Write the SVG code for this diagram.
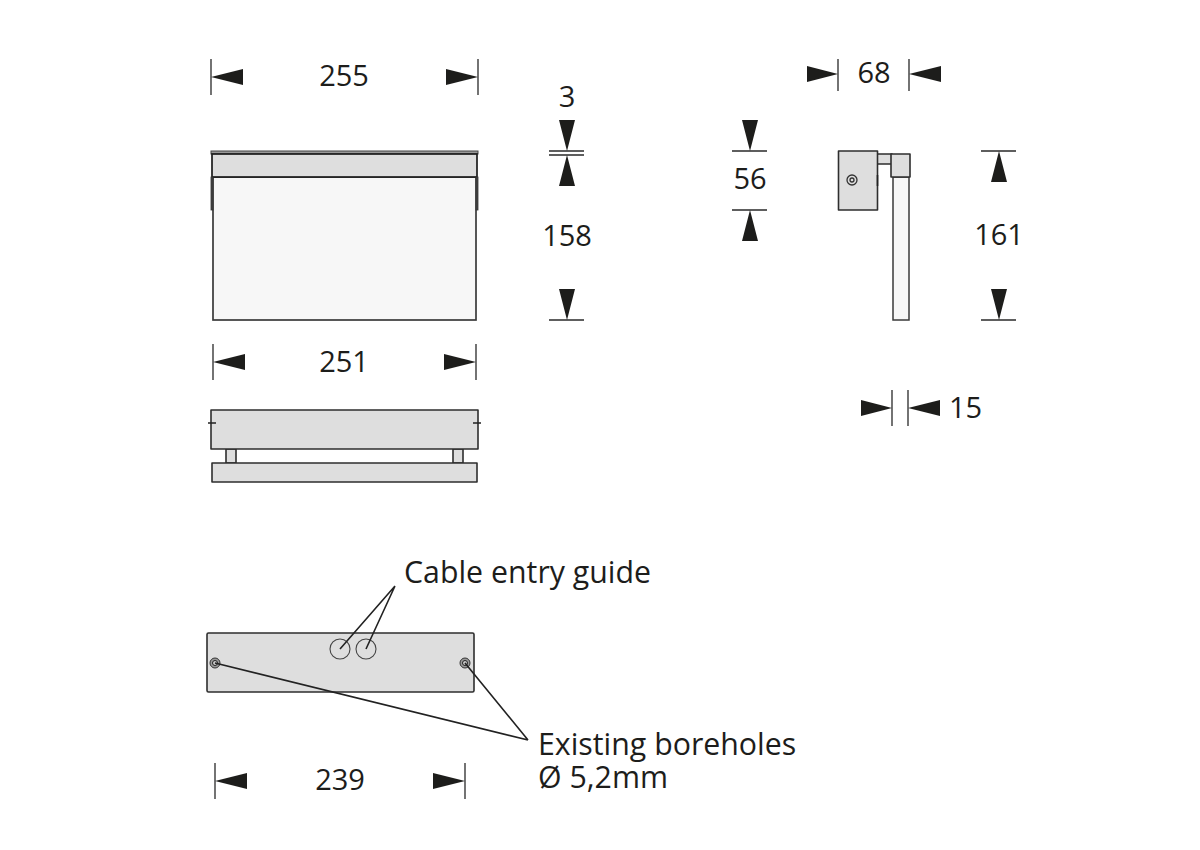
<svg xmlns="http://www.w3.org/2000/svg" width="1200" height="850" viewBox="0 0 1200 850">
<style>
text{font-family:"Open Sans","Noto Sans","Liberation Sans",sans-serif;font-size:29px;fill:#1d1d1b}
.m{text-anchor:middle}
.n{font-size:30.300px}
.o{stroke:#2e2e2e;stroke-width:1.600;fill:#dedede;stroke-linejoin:round}
.l{stroke:#2a2a2a;stroke-width:1.300;fill:none}
.k{stroke:#222;stroke-width:1.600;fill:none}
.a{fill:#1d1d1b;stroke:none}
</style>
<rect width="1200" height="850" fill="#fff"/>
<g id="front-view">
<rect x="213" y="177" width="263" height="143" fill="#f7f7f7" stroke="#3a3a3a" stroke-width="1.700"/>
<rect x="211" y="151" width="267" height="3" fill="#999" stroke="#444" stroke-width="1"/>
<rect x="212" y="154" width="265" height="23" fill="#dedede" stroke="#1d1d1d" stroke-width="1.700"/>
<rect x="211" y="177" width="2" height="33" fill="#444" stroke="#333" stroke-width="0.800"/>
<rect x="476" y="177" width="2" height="33" fill="#444" stroke="#333" stroke-width="0.800"/>
</g>
<g id="side-view">
<rect x="893" y="177" width="16" height="143" fill="#f7f7f7" stroke="#3a3a3a" stroke-width="1.500"/>
<rect x="877" y="154" width="15" height="10" class="o"/>
<path class="o" d="M891 154H910V177H891Z"/>
<rect x="838.500" y="151" width="39" height="59" class="o"/>
<path class="k" d="M877.500 175V186"/>
<circle cx="852" cy="180" r="5" fill="none" stroke="#333" stroke-width="1.300"/>
<circle cx="852" cy="180" r="2" fill="none" stroke="#333" stroke-width="1.300"/>
</g>
<g id="top-view">
<rect x="226" y="449" width="10" height="14" class="o"/>
<rect x="453" y="449" width="10" height="14" class="o"/>
<rect x="211" y="410" width="267" height="39" class="o"/>
<rect x="212" y="463" width="265" height="19" class="o"/>
<path class="k" d="M208 423H216M473 423H481"/>
</g>
<g id="back-view">
<rect x="207" y="633" width="267" height="59" rx="1.500" class="o"/>
<circle cx="340" cy="649" r="10" fill="none" stroke="#444" stroke-width="1.100"/>
<circle cx="366" cy="649" r="10" fill="none" stroke="#444" stroke-width="1.100"/>
<circle cx="215" cy="663" r="5" fill="#999" stroke="#333" stroke-width="1"/>
<circle cx="215" cy="663" r="2.500" fill="#ccc" stroke="#222" stroke-width="1"/>
<circle cx="465" cy="663" r="5" fill="#999" stroke="#333" stroke-width="1"/>
<circle cx="465" cy="663" r="2.500" fill="#ccc" stroke="#222" stroke-width="1"/>
</g>
<g id="connectors">
<path class="k" d="M395 586L340 649M395 586L366 649M528 740L215 663M528 740L465 663"/>
<path class="l" d="M211 59V95M478 59V95M838 59V91M909 59V91M549 151H584M549 155H584M549 320H584M732 151H767M732 210H767M981 151H1016M981 320H1016M213 344V380M476 344V380M892 390V426M908 390V426M215 763V799M465 763V799"/>
<path class="a" d="M211 77L243 69V85ZM478 77L446 69V85ZM838 74L807 66V82ZM909 74L941 66V82ZM567 151L559 120H575ZM567 155L559 186H575ZM567 320L559 289H575ZM750 151L742 120H758ZM750 210L742 241H758ZM999 151L991 182H1007ZM999 320L991 289H1007ZM213 362L245 354V370ZM476 362L444 354V370ZM892 408L861 400V416ZM908 408L940 400V416ZM215 781L247 773V789ZM465 781L433 773V789Z"/>
</g>
<g id="labels">
<text class="m" x="344" y="86">255</text>
<text class="m" x="874" y="83">68</text>
<text class="m" x="567" y="107">3</text>
<text class="m" x="750" y="189">56</text>
<text class="m" x="567" y="246">158</text>
<text class="m" x="999" y="245">161</text>
<text class="m" x="344" y="372">251</text>
<text x="949" y="418">15</text>
<text class="n" x="404" y="583">Cable entry guide</text>
<text class="n" x="538" y="755">Existing boreholes<tspan x="538" y="788">Ø 5,2mm</tspan></text>
<text class="m" x="340" y="790">239</text>
</g>
</svg>
